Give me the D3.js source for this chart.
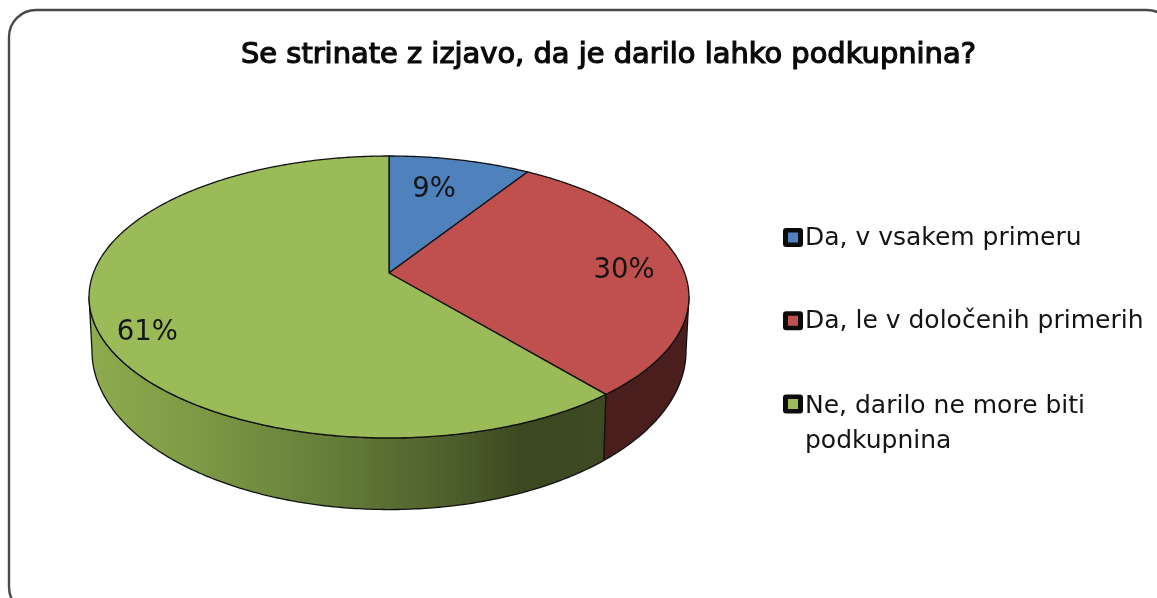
<!DOCTYPE html>
<html><head><meta charset="utf-8">
<style>html,body{margin:0;padding:0;background:#fff}svg{display:block;filter:blur(.5px)}</style>
<script src="https://cdnjs.cloudflare.com/ajax/libs/d3/7.8.5/d3.min.js"></script>
</head><body>
<svg id="c" width="1157" height="598"></svg>
<script>
const titleText = "Se strinate z izjavo, da je darilo lahko podkupnina?";
const categories = ["Da, v vsakem primeru", "Da, le v določenih primerih", "Ne, darilo ne more biti podkupnina"];
const values = [9, 30, 61];
const labels = ["9%", "30%", "61%"];
const topColors = ["#4f81bd", "#c0504d", "#9bbb59"];
const legendLines = [["Da, v vsakem primeru"], ["Da, le v določenih primerih"], ["Ne, darilo ne more biti", "podkupnina"]];

const svg = d3.select("#c");
const K = 0.17;
const topPlane = {x0: 389, y0: 273, a: 295.6, b: 136.9};
const lowPlane = {x0: 389, y0: 324, a: 292.7, b: 154};
function project(p, theta, r = 1) {
  const u = r * Math.sin(theta), v = -r * Math.cos(theta), w = 1 - K * v;
  return [p.x0 + p.a * u / w, p.y0 + p.b * v / w];
}
function rim(p, a0, a1) {
  const n = Math.max(2, Math.ceil(Math.abs(a1 - a0) / 0.01));
  return d3.range(n + 1).map(i => project(p, a0 + (a1 - a0) * i / n));
}
const line = d3.line();
const arcs = d3.pie().sort(null).value(d => d)(values);

svg.append("rect").attr("x", 9).attr("y", 10).attr("width", 1165).attr("height", 604)
  .attr("rx", 27).attr("fill", "#fff").attr("stroke", "#4a4a4a").attr("stroke-width", 2.4);

svg.append("text").attr("x", 241).attr("y", 63).text(titleText)
  .attr("font-family", "DejaVu Sans").attr("font-size", 28)
  .attr("stroke", "#0a0a0a").attr("stroke-width", 1.2)
  .attr("textLength", 735).attr("lengthAdjust", "spacingAndGlyphs").attr("fill", "#0a0a0a");

const defs = svg.append("defs");
const grad = defs.append("linearGradient").attr("id", "gw").attr("gradientUnits", "userSpaceOnUse")
  .attr("x1", 90).attr("x2", 608).attr("y1", 0).attr("y2", 0);
[[0, "#8fab4e"], [.2, "#7e9a45"], [.45, "#667f3a"], [.68, "#4f622d"], [.84, "#3b4820"], [1, "#3d4a22"]]
  .forEach(s => grad.append("stop").attr("offset", s[0]).attr("stop-color", s[1]));

const rightExt = Math.acos(-K), leftExt = 2 * Math.PI - rightExt;
const wallFill = ["none", "#4b1e1e", "url(#gw)"];
arcs.forEach((d, i) => {
  const a0 = Math.max(d.startAngle, rightExt), a1 = Math.min(d.endAngle, leftExt);
  if (a1 <= a0) return;
  const pts = rim(lowPlane, a0, a1).concat(rim(topPlane, a1, a0));
  svg.append("path").attr("d", line(pts) + "Z").attr("fill", wallFill[i])
    .attr("stroke", "#111").attr("stroke-width", 1.3).attr("stroke-linejoin", "round");
});

arcs.forEach((d, i) => {
  const pts = [[topPlane.x0, topPlane.y0]].concat(rim(topPlane, d.startAngle, d.endAngle));
  svg.append("path").attr("d", line(pts) + "Z").attr("fill", topColors[i])
    .attr("stroke", "#111").attr("stroke-width", 1.3).attr("stroke-linejoin", "round");
});

const labelR = [0.66, 0.8, 0.85], labelNudge = [[-4, -8], [1, 2], [7, 16]];
arcs.forEach((d, i) => {
  const [x, y] = project(topPlane, (d.startAngle + d.endAngle) / 2, labelR[i]);
  svg.append("text").attr("x", x + labelNudge[i][0]).attr("y", y + labelNudge[i][1]).attr("dy", "0.36em")
    .attr("text-anchor", "middle").attr("font-family", "DejaVu Sans").attr("font-size", 27.5)
    .attr("fill", "#141414").text(labels[i]);
});

const legendY = d3.scalePoint().domain(categories).range([237.5, 404]);
const legendTextNudge = [-1.5, -1.5, 0];
categories.forEach((c, i) => {
  const y = legendY(c);
  svg.append("rect").attr("x", 783).attr("y", y - 9.5).attr("width", 20).attr("height", 19).attr("rx", 3).attr("fill", "#0b0b0b");
  svg.append("rect").attr("x", 788).attr("y", y - 5).attr("width", 10).attr("height", 10).attr("fill", topColors[i]);
  legendLines[i].forEach((t, j) => {
    svg.append("text").attr("x", 805).attr("y", y + 9 + legendTextNudge[i] + j * 35).text(t)
      .attr("font-family", "DejaVu Sans").attr("font-size", 25).attr("fill", "#141414");
  });
});
</script></body></html>
